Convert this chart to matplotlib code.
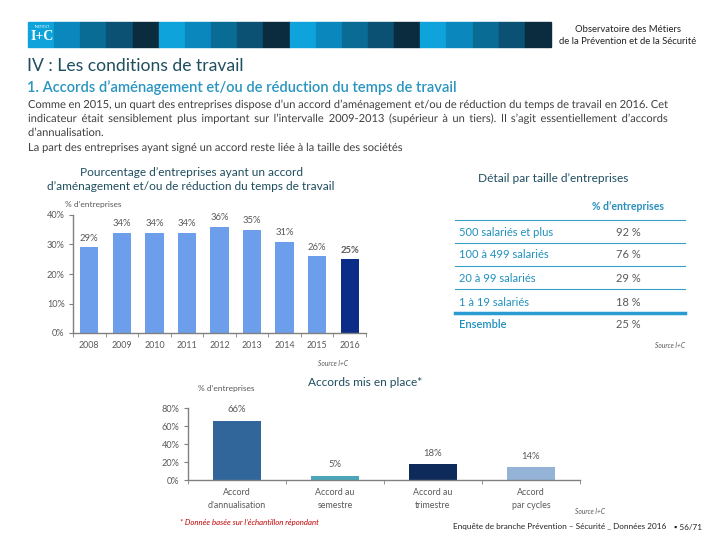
import matplotlib
matplotlib.use("Agg")
import matplotlib.pyplot as plt
import matplotlib.patheffects as pe
from matplotlib.patches import Rectangle
from matplotlib.lines import Line2D
import numpy as np

plt.rcParams['font.family'] = ['Lato', 'DejaVu Sans']

# --- données ---
years = ['2008', '2009', '2010', '2011', '2012', '2013', '2014', '2015', '2016']
pct_years = [29, 34, 34, 34, 36, 35, 31, 26, 25]

sizes = ['500 salariés et plus', '100 à 499 salariés', '20 à 99 salariés', '1 à 19 salariés']
size_pct = [92, 76, 29, 18]
total_label = 'Ensemble'
total_pct = 25

accords = ["Accord\nd'annualisation", 'Accord au\nsemestre', 'Accord au\ntrimestre', 'Accord\npar cycles']
accord_pct = [66, 5, 18, 14]
accord_colors = ['#31669b', '#4aa6b8', '#0d2a5a', '#95b3d7']

paragraph = [
    "Comme en 2015, un quart des entreprises dispose d\u2019un accord d\u2019aménagement et/ou de réduction du temps de travail en 2016. Cet",
    "indicateur était sensiblement plus important sur l\u2019intervalle 2009-2013 (supérieur à un tiers). Il s\u2019agit essentiellement d\u2019accords",
    "d\u2019annualisation.",
    "La part des entreprises ayant signé un accord reste liée à la taille des sociétés",
]

W, H = 720, 540
DARK = '#1f4e5f'
TEAL = '#2a95c0'
GREY = '#595959'

fig = plt.figure(figsize=(7.2, 5.4), dpi=100)


def fx(x):
    return x / W


def fy(y):
    return 1 - y / H


def ptext(x, y, s, **kw):
    kw.setdefault('va', 'center')
    return fig.text(fx(x), fy(y), s, **kw)


# --- bandeau ---
band_cols = ['#0fa3dc', '#0a88bd', '#086c95', '#0a5173', '#0b2c3f']
bw = (551 - 28) / 20
for i in range(20):
    fig.patches.append(Rectangle((fx(28 + i * bw), fy(47)), bw / W, 25 / H,
                                 transform=fig.transFigure, color=band_cols[i % 5]))
ptext(42, 36, 'I+C', color='white', fontsize=10, fontweight='bold', ha='center',
      family='Liberation Serif')
ptext(42, 27, 'INSTITUT', color='white', fontsize=2.5, ha='center')
ptext(628, 30, 'Observatoire des Métiers', fontsize=6.8, color='#222222', ha='center')
ptext(628, 42, 'de la Prévention et de la Sécurité', fontsize=6.8, color='#222222', ha='center')

# --- titres ---
ptext(27, 66, 'IV : Les conditions de travail', fontsize=12.6, color=DARK)
ptext(27, 88, '1. Accords d\u2019aménagement et/ou de réduction du temps de travail',
      fontsize=10.6, color=TEAL, fontweight='semibold')

# texte justifié : mots tracés en chemins pour garder la ligne de base
renderer = fig.canvas.get_renderer()
line_y = [108, 122, 136, 151]
for k, line in enumerate(paragraph):
    words = line.split(' ')
    if k < 2:
        objs = [ptext(0, line_y[k], w, fontsize=8, color='#404040', va='baseline',
                      path_effects=[pe.Normal()]) for w in words]
        widths = [o.get_window_extent(renderer).width for o in objs]
        gap = (668 - 28 - sum(widths)) / (len(words) - 1)
        x = 28
        for o, wd in zip(objs, widths):
            o.set_x(fx(x))
            x += wd + gap
    else:
        ptext(28, line_y[k], line, fontsize=8, color='#404040', va='baseline',
              path_effects=[pe.Normal()])

# --- graphique 1 ---
ptext(191, 172, 'Pourcentage d\u2019entreprises ayant un accord', fontsize=8.6, color=DARK, ha='center')
ptext(191, 187, 'd\u2019aménagement et/ou de réduction du temps de travail', fontsize=8.6, color=DARK, ha='center')
ptext(65, 204, '% d\u2019entreprises', fontsize=6, color=GREY)

ax1 = fig.add_axes([fx(73), fy(333), (366 - 73) / W, (333 - 215) / H])
x1 = np.arange(len(years))
cols1 = ['#6d9eeb'] * (len(years) - 1) + ['#0b2d87']
ax1.bar(x1, pct_years, width=0.56, color=cols1)
for xi, v in zip(x1, pct_years):
    ax1.text(xi, v + 1.6, f'{v}%', ha='center', va='bottom', fontsize=6.8, color=GREY,
             fontweight='bold' if xi == len(years) - 1 else 'normal')
ax1.set_xlim(-0.5, len(years) - 0.5)
ax1.set_ylim(0, 40)
ax1.set_yticks([0, 10, 20, 30, 40])
ax1.set_yticklabels(['0%', '10%', '20%', '30%', '40%'])
ax1.set_xticks(x1)
ax1.set_xticklabels(years)
ax1.set_xticks(np.arange(-0.5, len(years)), minor=True)

# --- graphique 2 ---
ptext(365, 382, 'Accords mis en place*', fontsize=8.6, color=DARK, ha='center')
ptext(226, 389, '% d\u2019entreprises', fontsize=6, color=GREY, ha='center')

ax2 = fig.add_axes([fx(188), fy(480), 392 / W, 72 / H])
x2 = np.arange(len(accords))
ax2.bar(x2, accord_pct, width=0.48, color=accord_colors)
for xi, v in zip(x2, accord_pct):
    ax2.text(xi, v + 7, f'{v}%', ha='center', va='bottom', fontsize=6.8, color=GREY)
ax2.set_xlim(-0.5, len(accords) - 0.5)
ax2.set_ylim(0, 80)
ax2.set_yticks([0, 20, 40, 60, 80])
ax2.set_yticklabels(['0%', '20%', '40%', '60%', '80%'])
ax2.set_xticks(x2)
ax2.set_xticklabels(accords, linespacing=1.5)
ax2.set_xticks(np.arange(-0.5, len(accords)), minor=True)

for ax in (ax1, ax2):
    for s in ('top', 'right'):
        ax.spines[s].set_visible(False)
    for s in ('left', 'bottom'):
        ax.spines[s].set_color('#808080')
        ax.spines[s].set_linewidth(1.0)
    ax.tick_params(axis='y', labelsize=6.6, labelcolor=GREY, color='#808080', length=3, pad=3)
    ax.tick_params(axis='x', which='major', length=0, labelsize=6.4, labelcolor=GREY, pad=6)
    ax.tick_params(axis='x', which='minor', length=3, color='#808080')
    ax.set_facecolor('none')

# --- tableau ---
ptext(553, 179, 'Détail par taille d\u2019entreprises', fontsize=8.6, color=DARK, ha='center')
ptext(628, 207, '% d\u2019entreprises', fontsize=7.6, color='#2a8fbf', ha='center', fontweight='bold')
row_y = [232, 255, 278, 302]
for yl in (220, 243, 266, 289):
    fig.lines.append(Line2D([fx(455), fx(685)], [fy(yl), fy(yl)], transform=fig.transFigure,
                            color='#3a9fc8', lw=0.8))
fig.lines.append(Line2D([fx(455), fx(685)], [fy(313), fy(313)], transform=fig.transFigure,
                        color='#2a9bd0', lw=2.5))
for lab, v, yy in zip(sizes, size_pct, row_y):
    ptext(459, yy, lab, fontsize=8, color='#1f8fbf')
    ptext(628, yy, f'{v} %', fontsize=8, color=GREY, ha='center')
ptext(459, 324, total_label, fontsize=8, color='#1f8fbf', fontweight='semibold')
ptext(628, 324, f'{total_pct} %', fontsize=8, color=GREY, ha='center')

# --- sources / pied ---
ptext(685, 345, 'Source I+C', fontsize=4.8, color=GREY, ha='right', style='italic')
ptext(333, 363, 'Source I+C', fontsize=4.8, color=GREY, ha='center', style='italic')
ptext(590, 512, 'Source I+C', fontsize=4.8, color=GREY, ha='center', style='italic')
ptext(180, 523, '* Donnée basée sur l\u2019échantillon répondant', fontsize=5.6, color='#c00000',
      style='italic')
ptext(453, 527, 'Enquête de branche Prévention \u2013 Sécurité _ Données 2016', fontsize=5.9, color='#222222')
ptext(674, 527, '\u25aa 56/71', fontsize=5.9, color='#222222')

fig.savefig('out.png', dpi=100)
